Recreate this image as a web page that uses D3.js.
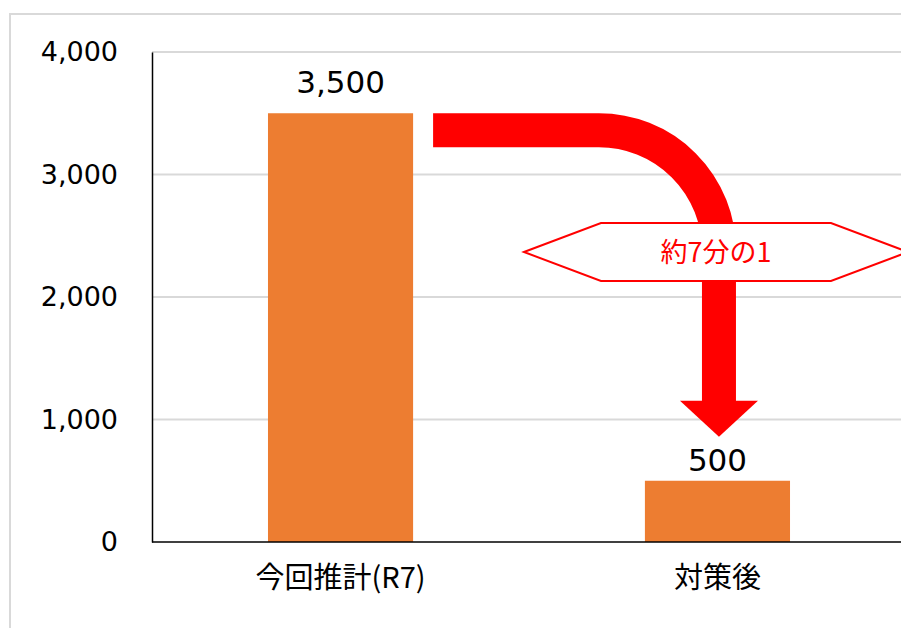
<!DOCTYPE html>
<html>
<head>
<meta charset="utf-8">
<script src="https://cdn.jsdelivr.net/npm/d3@7"></script>
<style>
  body { margin: 0; background: #fff; }
  text { font-family: "DejaVu Sans", sans-serif; }
  .jp { font-family: "Noto Sans CJK JP", sans-serif; }
</style>
</head>
<body>
<div id="chart"></div>
<script>
// data
var categories = ["今回推計(R7)", "対策後"];
var values = [3500, 500];
var yTicks = [0, 1000, 2000, 3000, 4000];
var ratioLabel = "約7分の1";

var W = 901, H = 628;
var margin = {top: 52, left: 152, bottom: 86};

var svg = d3.select("#chart").append("svg")
  .attr("width", W)
  .attr("height", H);

// outer chart border (runs off the page right/bottom)
svg.append("rect")
  .attr("x", 10).attr("y", 14)
  .attr("width", 1000).attr("height", 700)
  .attr("fill", "none")
  .attr("stroke", "#d9d9d9")
  .attr("stroke-width", 2);

var y = d3.scaleLinear()
  .domain([0, 4000])
  .range([H - margin.bottom, margin.top]);

var x = d3.scaleBand()
  .domain(categories)
  .range([margin.left, 906])
  .paddingInner(0.615)
  .paddingOuter(0.3077);

// gridlines
svg.append("g")
  .selectAll("line")
  .data(yTicks.filter(function(d){ return d > 0 }))
  .join("line")
    .attr("x1", margin.left).attr("x2", W)
    .attr("y1", function(d){ return y(d) })
    .attr("y2", function(d){ return y(d) })
    .attr("stroke", "#d9d9d9")
    .attr("stroke-width", 2);

// y axis
var yAxis = svg.append("g")
  .attr("transform", "translate(" + margin.left + ",0)")
  .call(d3.axisLeft(y).tickValues(yTicks).tickSize(0).tickPadding(34).tickFormat(d3.format(",")));
yAxis.select(".domain").attr("stroke", "#000").attr("stroke-width", 1.5);
yAxis.selectAll("text")
  .attr("font-size", 27)
  .attr("fill", "#000")
  .attr("font-family", "DejaVu Sans, sans-serif");

// bars
svg.append("g")
  .selectAll("rect")
  .data(values)
  .join("rect")
    .attr("x", function(d, i){ return x(categories[i]) })
    .attr("y", function(d){ return y(d) })
    .attr("width", x.bandwidth())
    .attr("height", function(d){ return y(0) - y(d) })
    .attr("fill", "#ED7D31");

// x axis
var xAxis = svg.append("g")
  .attr("transform", "translate(0," + y(0) + ")")
  .call(d3.axisBottom(x).tickSize(0).tickPadding(25));
xAxis.select(".domain").attr("d", "M" + margin.left + ",0H" + W)
  .attr("stroke", "#000").attr("stroke-width", 1.5);
xAxis.selectAll("text")
  .attr("class", "jp")
  .attr("font-size", 29)
  .attr("fill", "#000")
  .attr("font-family", "Noto Sans CJK JP, sans-serif");

// data labels
svg.append("g")
  .selectAll("text")
  .data(values)
  .join("text")
    .attr("x", function(d, i){ return x(categories[i]) + x.bandwidth() / 2 })
    .attr("y", function(d, i){ return y(d) - (i == 0 ? 20 : 10) })
    .attr("text-anchor", "middle")
    .attr("font-size", 31)
    .attr("fill", "#000")
    .text(function(d){ return d3.format(",")(d) });

// red bent arrow from bar 1 down to bar 2
var aw = 34, r = 120;
var ax0 = x(categories[0]) + x.bandwidth() + 20;
var acx = x(categories[1]) + x.bandwidth() / 2 + 1.5;
var ay0 = y(values[0]) + aw / 2;
var headTop = y(values[1]) - 80;
var headTip = headTop + 36;

svg.append("path")
  .attr("d", "M" + ax0 + "," + ay0 + "H" + (acx - r) +
             "A" + r + "," + r + " 0 0 1 " + acx + "," + (ay0 + r) +
             "V" + (headTop + 1))
  .attr("fill", "none")
  .attr("stroke", "#ff0000")
  .attr("stroke-width", aw);

svg.append("path")
  .attr("d", "M" + (acx - 39) + "," + headTop + "H" + (acx + 39) + "L" + acx + "," + headTip + "Z")
  .attr("fill", "#ff0000");

// hexagon callout
var hx = acx - 3, hy = 252, hw = 192, hf = 115, hh = 29;
svg.append("path")
  .attr("d", "M" + (hx - hw) + "," + hy +
             "L" + (hx - hf) + "," + (hy - hh) +
             "L" + (hx + hf) + "," + (hy - hh) +
             "L" + (hx + hw) + "," + hy +
             "L" + (hx + hf) + "," + (hy + hh) +
             "L" + (hx - hf) + "," + (hy + hh) + "Z")
  .attr("fill", "#fff")
  .attr("stroke", "#ff0000")
  .attr("stroke-width", 2);

svg.append("text")
  .attr("class", "jp")
  .attr("x", hx)
  .attr("y", hy)
  .attr("dy", "0.36em")
  .attr("text-anchor", "middle")
  .attr("font-size", 27)
  .attr("fill", "#ff0000")
  .text(ratioLabel);
</script>
</body>
</html>
